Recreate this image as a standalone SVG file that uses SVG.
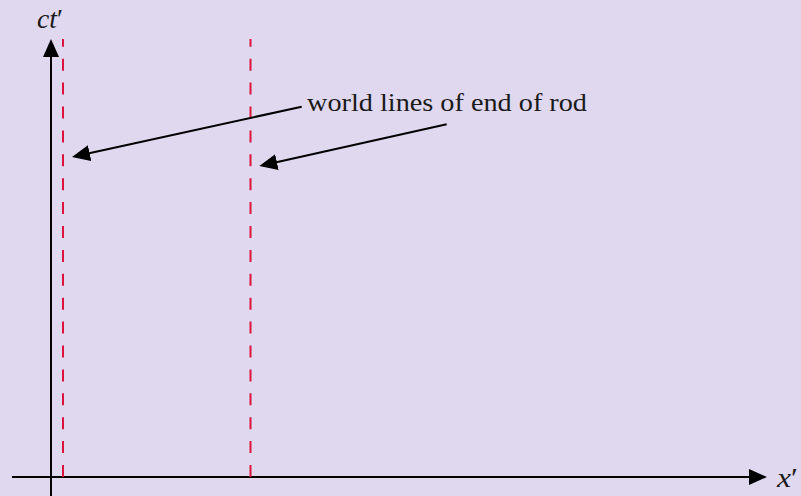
<svg xmlns="http://www.w3.org/2000/svg" width="801" height="496" viewBox="0 0 801 496">
  <style>
    .axis { stroke: #000; stroke-width: 2; fill: none; }
    .wl { stroke: #dc143c; stroke-width: 2; stroke-dasharray: 12 11.9; fill: none; }
    .lbl { font-family: "Liberation Serif", "Times New Roman", Tinos, serif; font-size: 25px; fill: #1a1a1a; }
    .math { font-style: italic; font-size: 27px; }
  </style>
  <defs>
    <marker id="arr" viewBox="0 0 18 16" refX="4" refY="8" markerWidth="18" markerHeight="16" markerUnits="userSpaceOnUse" orient="auto">
      <path d="M0,0 L18,8 L0,16 z" fill="#000"/>
    </marker>
  </defs>
  <rect width="801" height="496" fill="#e0d8ef"/>
  <g id="axes">
    <g id="ct-axis">
      <line class="axis" x1="51" y1="496" x2="51" y2="53" marker-end="url(#arr)"/>
      <text class="lbl math" x="37" y="28" textLength="26" lengthAdjust="spacingAndGlyphs">ct<tspan font-style="normal">′</tspan></text>
    </g>
    <g id="x-axis">
      <line class="axis" x1="12" y1="477" x2="753" y2="477" marker-end="url(#arr)"/>
      <text class="lbl math" x="777" y="487" textLength="21" lengthAdjust="spacingAndGlyphs">x<tspan font-style="normal">′</tspan></text>
    </g>
  </g>
  <g id="world-lines">
    <line id="wl-left" class="wl" x1="63" y1="477" x2="63" y2="39"/>
    <line id="wl-right" class="wl" x1="250.5" y1="477" x2="250.5" y2="39"/>
  </g>
  <g id="label">
    <text class="lbl" x="307" y="111" textLength="280" lengthAdjust="spacingAndGlyphs">world lines of end of rod</text>
  </g>
  <g id="connectors">
    <line class="axis" x1="301.7" y1="106.7" x2="85.7" y2="154" marker-end="url(#arr)"/>
    <line class="axis" x1="446.7" y1="124.3" x2="273" y2="163" marker-end="url(#arr)"/>
  </g>
</svg>
